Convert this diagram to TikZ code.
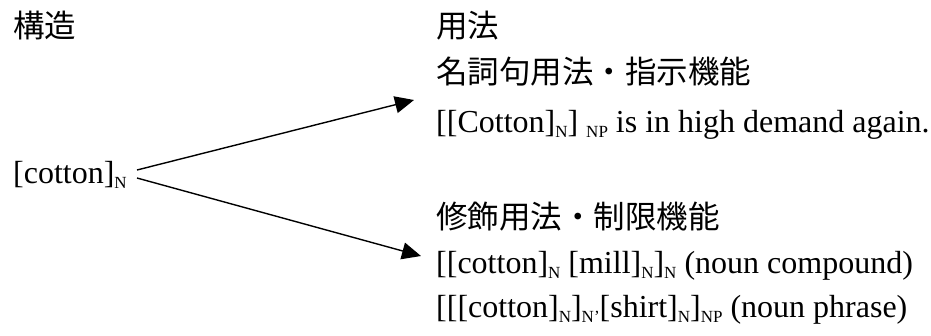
\documentclass[tikz,border=0pt]{standalone}
\usepackage{fontspec}
\setmainfont{Liberation Serif}
\newfontfamily\cjk{Noto Sans CJK JP}
\usetikzlibrary{arrows.meta}
\newcommand{\lsub}[1]{\raisebox{-5pt}{\fontsize{17}{17}\selectfont #1}}
\begin{document}
\begin{tikzpicture}[x=1pt,y=-1pt,
  font=\fontsize{32}{36}\selectfont,
  txt/.style={inner sep=0pt, anchor=base west},
  jp/.style={inner sep=0pt, anchor=west, font=\fontsize{31.5}{36}\selectfont\cjk},
  conn/.style={line width=1.4pt, -{Triangle[length=19pt,width=17pt]}}]
\useasboundingbox (0,0) rectangle (931,335);
\node[jp] (kozo) at (13,26) {構造};
\node[jp] (yoho) at (436,26) {用法};
\node[jp] (meishi) at (436,72) {名詞句用法・指示機能};
\node[txt] (ex1) at (436,132) {[[Cotton]\lsub{N}] \lsub{NP} is in high demand again.};
\node[txt] (cot) at (13,183) {[cotton]\lsub{N}};
\node[jp] (shushoku) at (436,217) {修飾用法・制限機能};
\node[txt] (ex2) at (436,273) {[[cotton]\lsub{N} [mill]\lsub{N}]\lsub{N} (noun compound)};
\node[txt] (ex3) at (436,317) {[[[cotton]\lsub{N}]\lsub{N’}[shirt]\lsub{N}]\lsub{NP} (noun phrase)};
\coordinate (s1) at (137,170);
\coordinate (t1) at (414,100);
\coordinate (s2) at (137,178);
\coordinate (t2) at (421,256);
\draw[conn] (s1) -- (t1);
\draw[conn] (s2) -- (t2);
\end{tikzpicture}
\end{document}
